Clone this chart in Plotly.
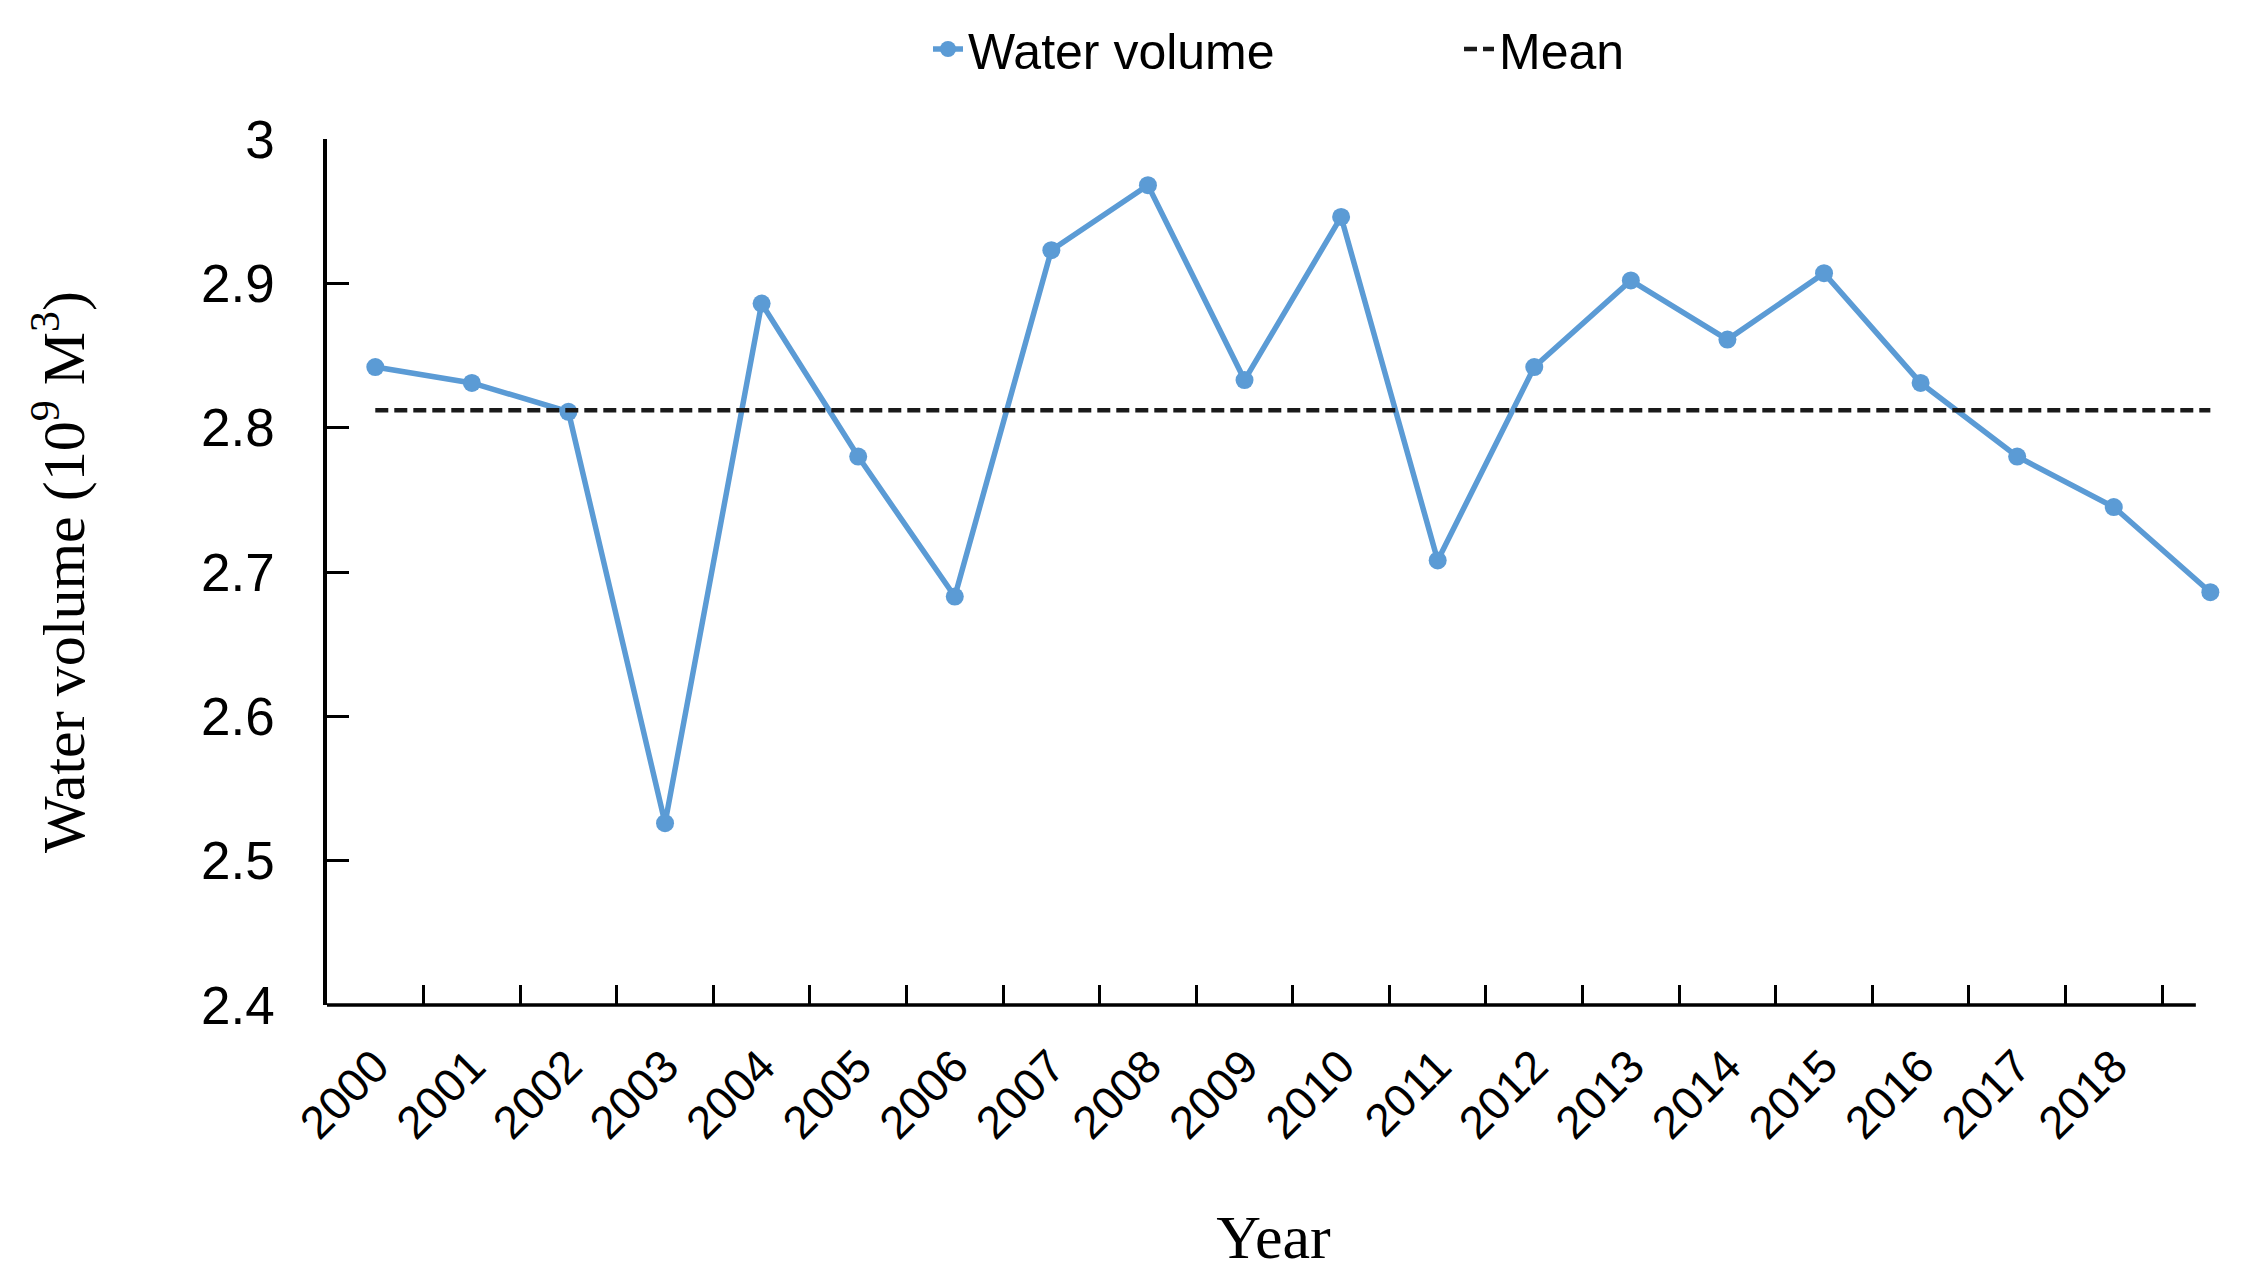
import plotly.graph_objects as go

# Data
years = list(range(2000, 2020))
water_volume = [2.842, 2.831, 2.811, 2.526, 2.886, 2.780, 2.683, 2.923, 2.968, 2.833,
                2.946, 2.708, 2.842, 2.902, 2.861, 2.907, 2.831, 2.780, 2.745, 2.686]
mean_value = 2.812
tick_years = list(range(2000, 2019))
y_ticks = [2.4, 2.5, 2.6, 2.7, 2.8, 2.9, 3.0]
y_tick_labels = ['2.4', '2.5', '2.6', '2.7', '2.8', '2.9', '3']

x_axis_end = 2018.85

fig = go.Figure()

fig.add_trace(go.Scatter(
    x=years,
    y=water_volume,
    mode='lines+markers',
    name='Water volume',
    line=dict(color='#5B9BD5', width=5.5),
    marker=dict(size=18, color='#5B9BD5'),
    cliponaxis=False
))

fig.add_trace(go.Scatter(
    x=years,
    y=[mean_value] * len(years),
    mode='lines',
    name='Mean',
    line=dict(color='#1a1a1a', width=4.5, dash='13px,6px')
))

# x axis line stops before the last point, as in the original
fig.add_shape(type='line', xref='x', yref='paper',
              x0=1999.5, x1=x_axis_end, y0=0, y1=0,
              line=dict(color='black', width=3.5), layer='above')

fig.update_layout(
    width=2251,
    height=1284,
    margin=dict(l=319, r=39, t=131, b=287),
    plot_bgcolor='white',
    paper_bgcolor='white',
    font=dict(family='Liberation Sans, Arial, sans-serif', color='black'),
    xaxis=dict(
        range=[1999.5, 2019.1],
        tickmode='array',
        tickvals=tick_years,
        ticktext=[str(y) for y in tick_years],
        ticks='',
        tickangle=-45,
        tickfont=dict(size=46),
        ticklabelstandoff=24,
        showline=False,
        showgrid=False,
        zeroline=False,
        minor=dict(tickvals=[y + 0.5 for y in tick_years], ticks='inside',
                   ticklen=20, tickwidth=3, tickcolor='black'),
        title=dict(text='Year', font=dict(family='Liberation Serif, Times New Roman, serif', size=62),
                   standoff=66)
    ),
    yaxis=dict(
        range=[2.4, 3.0],
        tickmode='array',
        tickvals=y_ticks,
        ticktext=y_tick_labels,
        ticks='inside',
        ticklen=22,
        tickwidth=3,
        tickcolor='black',
        tickfont=dict(size=53),
        ticklabelstandoff=38,
        showline=True,
        linewidth=3.5,
        linecolor='black',
        showgrid=False,
        zeroline=False,
        title=dict(text='Water volume (10<sup>9</sup> M<sup>3</sup>)',
                   font=dict(family='Liberation Serif, Times New Roman, serif', size=60),
                   standoff=98)
    ),
    legend=dict(
        orientation='h',
        xref='container', x=920 / 2251, xanchor='left',
        yref='container', y=1 - 2 / 1284, yanchor='top',
        font=dict(size=50),
        entrywidth=486,
        bgcolor='rgba(0,0,0,0)'
    )
)

fig.write_html("out.html")
